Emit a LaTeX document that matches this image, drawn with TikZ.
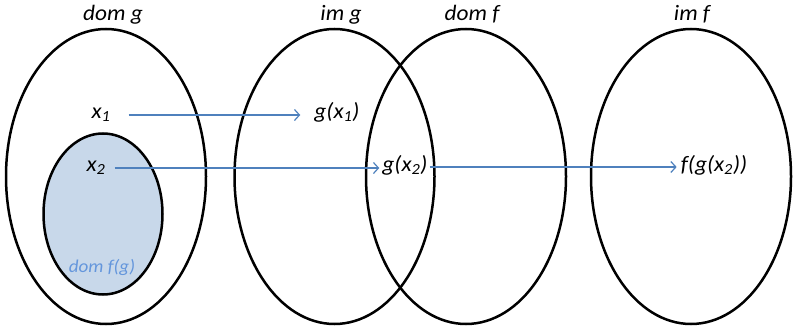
\documentclass[tikz,border=0pt]{standalone}
\usepackage{fontspec}
\setmainfont{Carlito}
\usetikzlibrary{shapes.geometric,arrows.meta}
\definecolor{arrblue}{RGB}{79,129,189}
\definecolor{setfill}{RGB}{200,216,234}
\definecolor{lblblue}{RGB}{100,150,220}
\newcommand{\widetxt}[1]{\scalebox{1.06}[1]{#1}}
\begin{document}
\begin{tikzpicture}[x=1pt,y=-1pt,
  setshape/.style={draw, line width=2.5pt, ellipse, inner sep=0pt, minimum width=200pt, minimum height=295pt},
  lbl/.style={inner sep=0pt, anchor=base, font=\fontsize{22}{26}\selectfont\itshape},
  arr/.style={draw=arrblue, line width=1.2pt, -{Straight Barb[length=5pt,width=11pt,line width=1.2pt]}}]
\useasboundingbox (0,0) rectangle (795,329);
% sets
\node[setshape] (domg) at (106,176.5) {};
\node[setshape] (img) at (334.5,176.5) {};
\node[setshape] (domf) at (466,176.5) {};
\node[setshape] (imf) at (691,176.5) {};
\node[draw, line width=2.5pt, ellipse, inner sep=0pt, fill=setfill, minimum width=119pt, minimum height=161pt] (dfg) at (103,214) {};
% titles
\node[lbl] (tdomg) at (113,21) {\widetxt{dom g}};
\node[lbl] (timg) at (341,21) {\widetxt{im g}};
\node[lbl] (tdomf) at (472,21) {\widetxt{dom f}};
\node[lbl] (timf) at (692,21) {\widetxt{im f}};
% elements
\node[lbl] (x1) at (101,118) {\widetxt{x\textsubscript{1}}};
\node[lbl] (gx1) at (337,118) {\widetxt{g(x\textsubscript{1})}};
\node[lbl] (x2) at (96,171) {\widetxt{x\textsubscript{2}}};
\node[lbl] (gx2) at (405,171) {\widetxt{g(x\textsubscript{2})}};
\node[lbl] (fgx2) at (714,171) {\widetxt{f(g(x\textsubscript{2}))}};
\node[inner sep=0pt, anchor=base, text=lblblue, font=\fontsize{18}{21}\selectfont\itshape] (ldfg) at (102,272) {\widetxt{dom f(g)}};
% arrows
\draw[arr, shorten <=18pt, shorten >=14pt] ([yshift=3pt]x1.base east) -- ([yshift=3pt]gx1.base west);
\draw[arr, shorten <=9pt, shorten >=3pt] ([yshift=3pt]x2.base east) -- ([yshift=3pt]gx2.base west);
\draw[arr, shorten <=2pt, shorten >=4pt] ([yshift=4pt]gx2.base east) -- ([yshift=4pt]fgx2.base west);
\end{tikzpicture}
\end{document}
